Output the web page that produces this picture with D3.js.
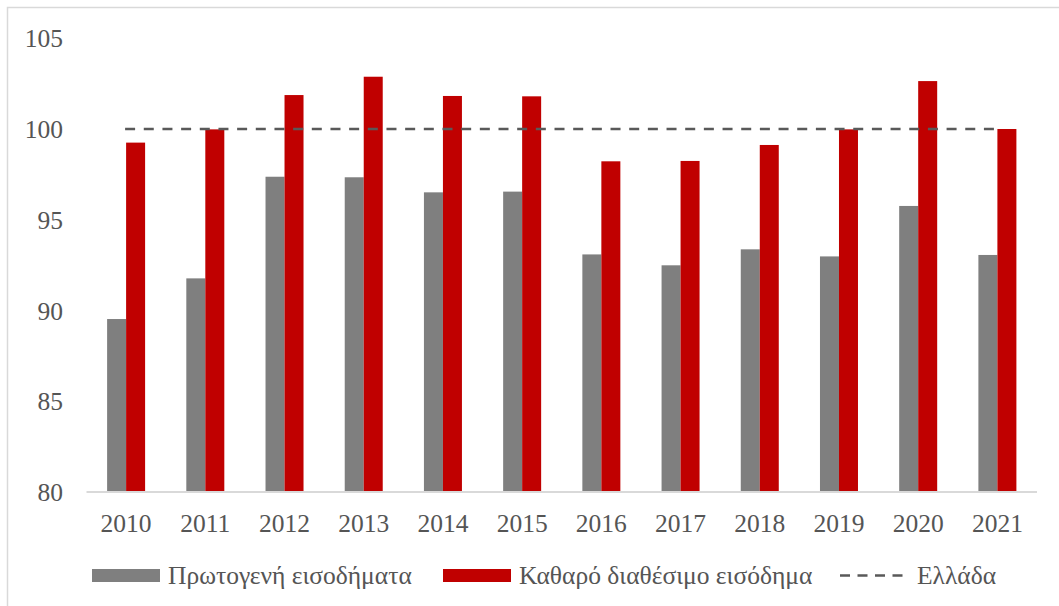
<!DOCTYPE html>
<html><head><meta charset="utf-8">
<script src="https://cdn.jsdelivr.net/npm/d3@7"></script>
<style>
html,body{margin:0;padding:0;background:#fff;}
svg{display:block;}
text{font-family:"Liberation Serif","DejaVu Serif",serif;fill:#555555;}
</style></head>
<body>
<svg id="chart" width="1059" height="606"></svg>
<script>
const years = ["2010","2011","2012","2013","2014","2015","2016","2017","2018","2019","2020","2021"];
const primaryIncome = [89.53, 91.77, 97.37, 97.34, 96.51, 96.55, 93.09, 92.49, 93.37, 92.98, 95.76, 93.06];
const disposableIncome = [99.25, 99.98, 101.87, 102.88, 101.82, 101.80, 98.22, 98.24, 99.12, 99.98, 102.64, 100.0];
const greeceLevel = 100;
const yTicks = [80, 85, 90, 95, 100, 105];
const seriesNames = ["Πρωτογενή εισοδήματα", "Καθαρό διαθέσιμο εισόδημα", "Ελλάδα"];

const svg = d3.select("#chart");

// outer frame
svg.append("rect").attr("x", 7.5).attr("y", 7.5).attr("width", 1060).attr("height", 610)
  .attr("fill", "#fff").attr("stroke", "#d9d9d9").attr("stroke-width", 1.5);

const x0 = d3.scaleBand().domain(years).range([86.5, 1037]).paddingInner(0).paddingOuter(0);
const y = d3.scaleLinear().domain([80, 105]).range([492, 38.25]);
const barW = 19;

const colors = ["#7f7f7f", "#c00000"];
const series = [primaryIncome, disposableIncome];

series.forEach((vals, si) => {
  svg.append("g").selectAll("rect").data(years).join("rect")
    .attr("x", (d) => x0(d) + x0.bandwidth() / 2 - barW + si * barW)
    .attr("y", (d, i) => y(vals[i]))
    .attr("width", barW)
    .attr("height", (d, i) => y(80) - y(vals[i]))
    .attr("fill", colors[si]);
});

// baseline
svg.append("line").attr("x1", x0.range()[0]).attr("x2", x0.range()[1])
  .attr("y1", y(80)).attr("y2", y(80)).attr("stroke", "#d9d9d9").attr("stroke-width", 2);

// Greece dashed line
const cx = (d) => x0(d) + x0.bandwidth() / 2;
svg.append("path")
  .attr("d", d3.line().x((d) => cx(d) - 1).y(() => y(greeceLevel))(years))
  .attr("fill", "none").attr("stroke", "#595959").attr("stroke-width", 2.5)
  .attr("stroke-dasharray", "10,8.67");

const FS = 25.5;
// Y axis labels
const yAxis = d3.axisLeft(y).tickValues(yTicks).tickSize(0).tickPadding(0);
const gy = svg.append("g").attr("transform", "translate(63,0)").call(yAxis);
gy.select(".domain").remove();
gy.selectAll("text").attr("font-family", "Liberation Serif").attr("font-size", FS)
  .attr("fill", "#555555").attr("dy", "0.34em");

// X axis labels
const xAxis = d3.axisBottom(x0).tickSize(0).tickPadding(0);
const gx = svg.append("g").attr("transform", "translate(0,532)").call(xAxis);
gx.select(".domain").remove();
gx.selectAll("text").attr("font-family", "Liberation Serif").attr("font-size", FS)
  .attr("fill", "#555555").attr("dy", 0).attr("y", 0);

// Legend
const legY = 575.5;
const legX = [92, 443, 840];
const leg = svg.append("g");
[0, 1].forEach((i) => {
  leg.append("rect").attr("x", legX[i]).attr("y", legY - 6.5).attr("width", 68).attr("height", 13)
    .attr("fill", colors[i]);
  leg.append("text").attr("x", legX[i] + 76).attr("y", legY).attr("dy", "0.35em")
    .attr("font-size", FS).text(seriesNames[i]);
});
leg.append("line").attr("x1", legX[2]).attr("x2", legX[2] + 64).attr("y1", legY).attr("y2", legY)
  .attr("stroke", "#595959").attr("stroke-width", 2.5).attr("stroke-dasharray", "10,7.5");
leg.append("text").attr("x", legX[2] + 77).attr("y", legY).attr("dy", "0.35em")
  .attr("font-size", FS).text(seriesNames[2]);
</script>
</body></html>
